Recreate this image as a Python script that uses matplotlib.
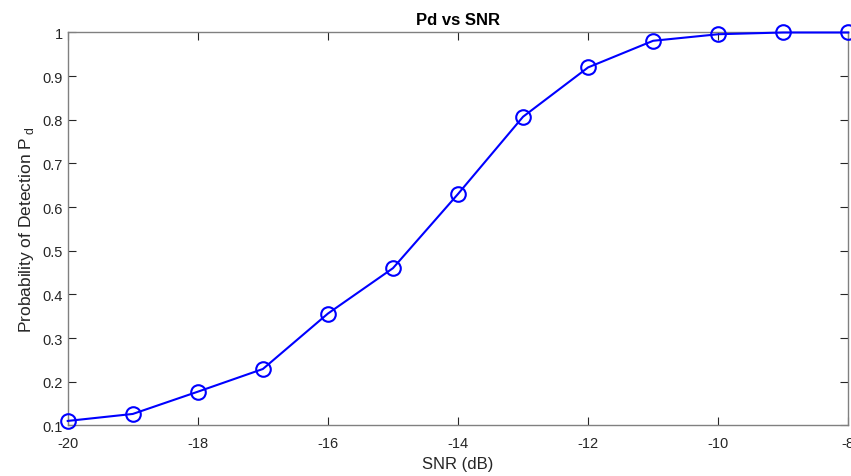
import numpy as np
import matplotlib
matplotlib.use("Agg")
import matplotlib.pyplot as plt

plt.rcParams['font.family'] = ['Liberation Sans', 'DejaVu Sans']

snr_db = [-20, -19, -18, -17, -16, -15, -14, -13, -12, -11, -10, -9, -8]
pd = [0.110, 0.126, 0.177, 0.229, 0.356, 0.460, 0.630, 0.807, 0.920, 0.981, 0.996, 1.000, 1.000]
xticks = [-20, -18, -16, -14, -12, -10, -8]
yticks = [0.1, 0.2, 0.3, 0.4, 0.5, 0.6, 0.7, 0.8, 0.9, 1.0]
yticklabels = ['0.1', '0.2', '0.3', '0.4', '0.5', '0.6', '0.7', '0.8', '0.9', '1']

fig = plt.figure(figsize=(8.51, 4.77), dpi=100)
ax = fig.add_axes([0.0796, 0.1063, 0.9172, 0.8235])

ax.plot(snr_db, pd, color='#0000ff', lw=1.5, marker='o', ms=10.5,
        mfc='none', mew=1.5, clip_on=False, zorder=3)

ax.set_xlim(-20, -8)
ax.set_ylim(0.1, 1)
ax.set_xticks(xticks)
ax.set_xticklabels([str(t) for t in xticks])
ax.set_yticks(yticks)
ax.set_yticklabels(yticklabels)

for s in ax.spines.values():
    s.set_color('#808080')
    s.set_linewidth(1.0)
ax.tick_params(direction='in', length=6, width=0.8, color='#262626',
               labelcolor='#262626', labelsize=10.5, top=True, right=True)
ax.tick_params(axis='x', pad=8)

ax.set_title('Pd vs SNR', fontsize=12, fontweight='bold', color='black', pad=6)
ax.set_xlabel('SNR (dB)', fontsize=12, color='#262626', labelpad=4)
ax.set_ylabel('Probability of Detection P$\\,_\\mathregular{d}$', fontsize=12.5,
              color='#262626', labelpad=5)

fig.savefig('out.png', dpi=100)
